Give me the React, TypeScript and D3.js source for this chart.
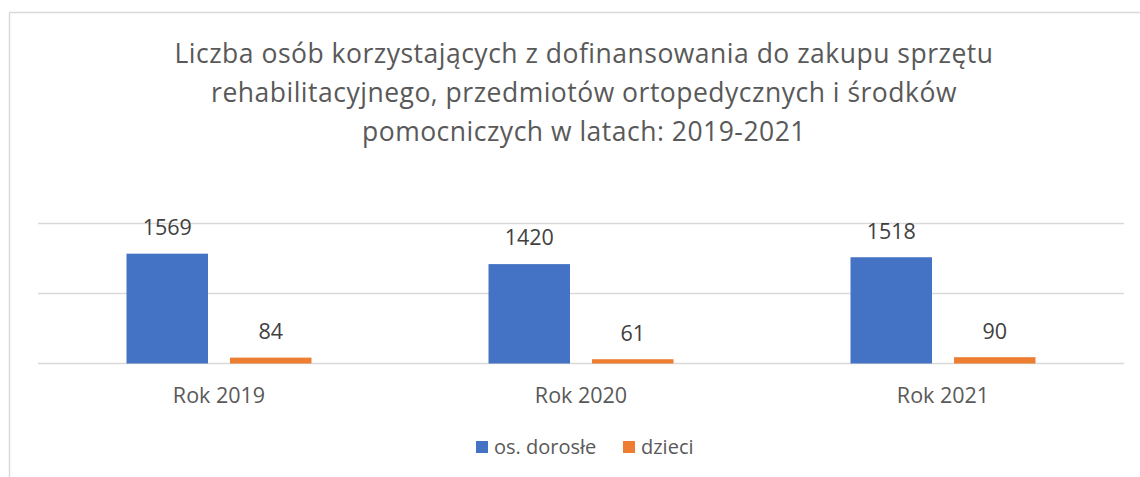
import React from "react";
import * as d3 from "d3";

const categories = ["Rok 2019", "Rok 2020", "Rok 2021"];
const seriesNames = ["os. dorosłe", "dzieci"];
const adults = [1569, 1420, 1518];
const children = [84, 61, 90];
const colors = ["#4472C4", "#ED7D31"];
const gridTicks = [0, 1000, 2000];
const titleLines = [
  "Liczba osób korzystających z dofinansowania do zakupu sprzętu",
  "rehabilitacyjnego, przedmiotów ortopedycznych i środków",
  "pomocniczych w latach: 2019-2021",
];

const W = 1140;
const H = 477;
const FONT = "'Open Sans', Lato, sans-serif";
const TEXT = "#595959";

export default function App() {
  const plotLeft = 38;
  const plotRight = 1124;
  const baseline = 363.5;
  const y = d3.scaleLinear().domain([0, 2000]).range([baseline, baseline - 140]);
  const x0 = d3.scaleBand().domain(categories).range([plotLeft, plotRight]).paddingInner(0).paddingOuter(0);
  const groupW = 185;
  const x1 = d3.scaleBand().domain(seriesNames).range([0, groupW]).paddingInner(0.2126).paddingOuter(0);
  const series = [adults, children];

  return (
    <div style={{ position: "absolute", left: 0, top: 0 }}>
      <svg width={W} height={H} style={{ display: "block" }}>
        <rect x={0} y={0} width={W} height={H} fill="#fff" />
        <line x1={9.5} y1={12.5} x2={W} y2={12.5} stroke="#d9d9d9" strokeWidth={1.5} />
        <line x1={9.5} y1={12.5} x2={9.5} y2={H} stroke="#d9d9d9" strokeWidth={1.5} />
        {titleLines.map((t, i) => (
          <text key={i} x={584} y={63.3 + i * 38.6} textAnchor="middle" fontFamily={FONT} fontSize={26.5} letterSpacing={0.5} fill={TEXT}>
            {t}
          </text>
        ))}
        {gridTicks.map((v) => (
          <line key={v} x1={plotLeft} x2={plotRight} y1={y(v)} y2={y(v)} stroke="#d9d9d9" strokeWidth={1.5} />
        ))}
        {categories.map((c, ci) => {
          const gx = (x0(c) as number) + (x0.bandwidth() - groupW) / 2;
          return (
            <g key={c}>
              {series.map((s, si) => {
                const bx = gx + (x1(seriesNames[si]) as number);
                const bw = x1.bandwidth();
                return (
                  <g key={si}>
                    <rect x={bx} y={y(s[ci])} width={bw} height={baseline - y(s[ci])} fill={colors[si]} />
                    <text x={bx + bw / 2} y={y(s[ci]) - 18.7} textAnchor="middle" fontFamily={FONT} fontSize={21.5} fill="#404040">
                      {s[ci]}
                    </text>
                  </g>
                );
              })}
              <text x={(x0(c) as number) + x0.bandwidth() / 2} y={403} textAnchor="middle" fontFamily={FONT} fontSize={21.5} fill={TEXT}>
                {c}
              </text>
            </g>
          );
        })}
        {seriesNames.map((n, i) => {
          const lx = [476, 623][i];
          return (
            <g key={n}>
              <rect x={lx} y={441} width={12} height={12} fill={colors[i]} />
              <text x={lx + 18} y={454} fontFamily={FONT} fontSize={20} fill={TEXT}>
                {n}
              </text>
            </g>
          );
        })}
      </svg>
    </div>
  );
}
